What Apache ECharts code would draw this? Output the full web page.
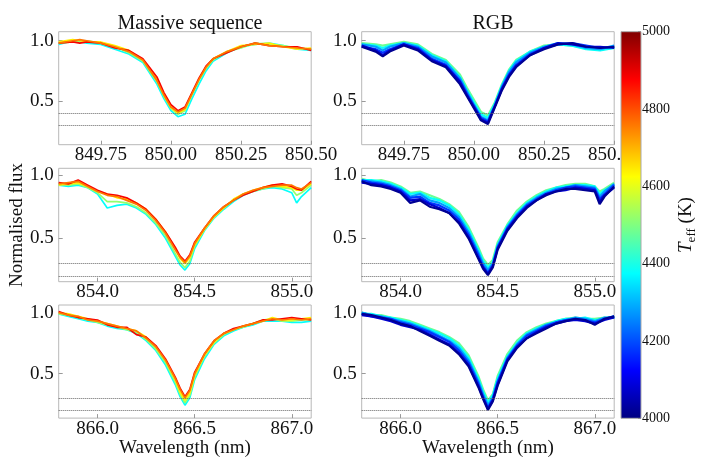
<!DOCTYPE html>
<html>
<head>
<meta charset="utf-8">
<script src="https://cdn.jsdelivr.net/npm/echarts@6/dist/echarts.min.js"></script>
<style>
  html, body { margin: 0; padding: 0; background: #fff; }
  #chart { width: 703px; height: 459px; }
</style>
</head>
<body>
<div id="chart"></div>
<script>
// wavelength grids (nm), one per Ca II triplet line
const wave8498 = [849.60, 849.65, 849.675, 849.70, 849.75, 849.80, 849.85, 849.90, 849.95, 849.975, 850.00, 850.025, 850.05, 850.075, 850.10, 850.125, 850.15, 850.20, 850.25, 850.30, 850.35, 850.40, 850.45, 850.50];
const wave8542 = [853.80, 853.85, 853.90, 853.95, 854.00, 854.05, 854.10, 854.15, 854.20, 854.25, 854.30, 854.35, 854.40, 854.425, 854.45, 854.475, 854.50, 854.55, 854.60, 854.65, 854.70, 854.75, 854.80, 854.85, 854.90, 854.95, 855.00, 855.025, 855.05, 855.10];
const wave8662 = [865.80, 865.85, 865.90, 865.95, 866.00, 866.05, 866.10, 866.15, 866.20, 866.25, 866.30, 866.35, 866.40, 866.425, 866.45, 866.475, 866.50, 866.55, 866.60, 866.65, 866.70, 866.75, 866.80, 866.85, 866.90, 866.95, 867.00, 867.05, 867.10];

// Teff (K) of the plotted spectra, in drawing order
const msTeff = [4380, 4520, 4640, 4880, 4760];
const rgbTeff = [4480, 4380, 4280, 4180, 4080, 4020];

// massive sequence fluxes (one row per msTeff)
const ms8498 = [
  [0.97, 1.00, 0.99, 0.98, 0.97, 0.93, 0.89, 0.82, 0.64, 0.52, 0.42, 0.37, 0.39, 0.52, 0.64, 0.75, 0.83, 0.90, 0.95, 0.97, 0.98, 0.96, 0.93, 0.92],
  [0.98, 0.99, 1.00, 1.00, 0.98, 0.95, 0.90, 0.83, 0.66, 0.54, 0.44, 0.39, 0.42, 0.55, 0.67, 0.77, 0.84, 0.91, 0.94, 0.98, 0.97, 0.96, 0.94, 0.93],
  [0.99, 1.01, 1.00, 0.99, 0.99, 0.96, 0.92, 0.84, 0.68, 0.55, 0.45, 0.40, 0.43, 0.56, 0.68, 0.78, 0.85, 0.91, 0.96, 0.97, 0.98, 0.95, 0.93, 0.94],
  [0.98, 0.99, 0.98, 0.99, 0.98, 0.94, 0.92, 0.85, 0.70, 0.57, 0.47, 0.42, 0.45, 0.57, 0.69, 0.79, 0.85, 0.90, 0.95, 0.98, 0.96, 0.95, 0.95, 0.92],
  [0.98, 1.00, 1.01, 1.00, 0.98, 0.95, 0.91, 0.84, 0.67, 0.55, 0.45, 0.41, 0.44, 0.56, 0.68, 0.78, 0.85, 0.91, 0.95, 0.98, 0.96, 0.95, 0.94, 0.93]
];
const ms8542 = [
  [0.92, 0.91, 0.92, 0.90, 0.85, 0.74, 0.76, 0.77, 0.74, 0.69, 0.61, 0.50, 0.36, 0.29, 0.25, 0.30, 0.42, 0.56, 0.66, 0.73, 0.79, 0.84, 0.87, 0.89, 0.90, 0.89, 0.86, 0.78, 0.83, 0.90],
  [0.93, 0.92, 0.93, 0.90, 0.86, 0.79, 0.79, 0.78, 0.75, 0.70, 0.62, 0.52, 0.38, 0.31, 0.27, 0.32, 0.44, 0.57, 0.67, 0.74, 0.80, 0.85, 0.87, 0.89, 0.91, 0.90, 0.89, 0.84, 0.86, 0.92],
  [0.92, 0.93, 0.94, 0.91, 0.87, 0.85, 0.82, 0.81, 0.78, 0.73, 0.65, 0.55, 0.42, 0.34, 0.30, 0.35, 0.45, 0.57, 0.67, 0.74, 0.81, 0.85, 0.88, 0.90, 0.92, 0.91, 0.90, 0.88, 0.88, 0.93],
  [0.94, 0.93, 0.96, 0.92, 0.88, 0.85, 0.84, 0.82, 0.78, 0.73, 0.65, 0.55, 0.43, 0.36, 0.32, 0.37, 0.47, 0.58, 0.68, 0.75, 0.80, 0.84, 0.87, 0.90, 0.92, 0.93, 0.91, 0.89, 0.88, 0.95],
  [0.93, 0.94, 0.95, 0.91, 0.87, 0.84, 0.83, 0.80, 0.77, 0.72, 0.64, 0.54, 0.41, 0.35, 0.31, 0.36, 0.46, 0.58, 0.68, 0.75, 0.80, 0.85, 0.88, 0.90, 0.91, 0.92, 0.92, 0.90, 0.89, 0.94]
];
const ms8662 = [
  [0.99, 0.97, 0.95, 0.93, 0.92, 0.89, 0.87, 0.86, 0.83, 0.77, 0.69, 0.57, 0.41, 0.31, 0.24, 0.30, 0.45, 0.62, 0.74, 0.81, 0.85, 0.88, 0.90, 0.93, 0.93, 0.93, 0.92, 0.92, 0.93],
  [0.99, 0.98, 0.96, 0.94, 0.92, 0.90, 0.88, 0.86, 0.84, 0.78, 0.70, 0.59, 0.43, 0.33, 0.26, 0.32, 0.47, 0.64, 0.75, 0.82, 0.86, 0.88, 0.91, 0.94, 0.95, 0.93, 0.93, 0.94, 0.94],
  [1.00, 0.99, 0.97, 0.95, 0.93, 0.91, 0.89, 0.87, 0.85, 0.80, 0.72, 0.61, 0.45, 0.35, 0.28, 0.34, 0.49, 0.65, 0.76, 0.83, 0.86, 0.89, 0.91, 0.93, 0.96, 0.94, 0.94, 0.95, 0.96],
  [1.01, 0.98, 0.96, 0.95, 0.94, 0.90, 0.88, 0.88, 0.82, 0.80, 0.73, 0.62, 0.47, 0.38, 0.31, 0.37, 0.51, 0.66, 0.77, 0.83, 0.87, 0.89, 0.91, 0.94, 0.94, 0.95, 0.96, 0.95, 0.94],
  [1.00, 0.98, 0.97, 0.94, 0.93, 0.91, 0.89, 0.87, 0.85, 0.79, 0.72, 0.61, 0.46, 0.37, 0.30, 0.36, 0.50, 0.66, 0.77, 0.83, 0.86, 0.89, 0.91, 0.93, 0.95, 0.94, 0.95, 0.94, 0.95]
];

// RGB fluxes (one row per rgbTeff)
const rgb8498 = [
  [0.98, 0.97, 0.96, 0.97, 0.99, 0.97, 0.89, 0.84, 0.72, 0.61, 0.51, 0.41, 0.38, 0.49, 0.64, 0.76, 0.84, 0.91, 0.96, 0.97, 0.96, 0.94, 0.93, 0.94],
  [0.97, 0.96, 0.94, 0.96, 0.98, 0.96, 0.88, 0.83, 0.70, 0.59, 0.49, 0.39, 0.36, 0.48, 0.63, 0.75, 0.83, 0.91, 0.95, 0.97, 0.96, 0.93, 0.92, 0.94],
  [0.97, 0.95, 0.92, 0.95, 0.98, 0.95, 0.87, 0.82, 0.69, 0.58, 0.47, 0.37, 0.34, 0.47, 0.62, 0.74, 0.82, 0.90, 0.95, 0.98, 0.97, 0.94, 0.93, 0.96],
  [0.95, 0.93, 0.90, 0.93, 0.97, 0.94, 0.85, 0.80, 0.67, 0.56, 0.46, 0.36, 0.33, 0.46, 0.61, 0.72, 0.80, 0.89, 0.94, 0.97, 0.98, 0.96, 0.94, 0.95],
  [0.96, 0.92, 0.88, 0.92, 0.97, 0.93, 0.84, 0.79, 0.66, 0.55, 0.45, 0.35, 0.32, 0.46, 0.60, 0.71, 0.79, 0.88, 0.94, 0.98, 0.97, 0.95, 0.95, 0.94],
  [0.95, 0.91, 0.87, 0.91, 0.96, 0.92, 0.83, 0.78, 0.64, 0.54, 0.44, 0.34, 0.31, 0.45, 0.59, 0.70, 0.78, 0.88, 0.93, 0.97, 0.98, 0.95, 0.94, 0.95]
];
const rgb8542 = [
  [0.97, 0.95, 0.96, 0.94, 0.91, 0.86, 0.87, 0.84, 0.81, 0.77, 0.71, 0.59, 0.43, 0.34, 0.29, 0.33, 0.47, 0.61, 0.72, 0.79, 0.84, 0.88, 0.90, 0.92, 0.93, 0.93, 0.91, 0.87, 0.89, 0.94],
  [0.96, 0.96, 0.95, 0.93, 0.90, 0.85, 0.86, 0.82, 0.80, 0.76, 0.69, 0.57, 0.41, 0.32, 0.27, 0.31, 0.45, 0.60, 0.70, 0.78, 0.83, 0.87, 0.90, 0.91, 0.92, 0.92, 0.91, 0.85, 0.88, 0.92],
  [0.95, 0.95, 0.94, 0.92, 0.89, 0.83, 0.85, 0.80, 0.78, 0.74, 0.67, 0.55, 0.39, 0.30, 0.25, 0.30, 0.44, 0.59, 0.69, 0.77, 0.82, 0.86, 0.89, 0.90, 0.92, 0.91, 0.90, 0.83, 0.87, 0.93],
  [0.96, 0.94, 0.93, 0.91, 0.88, 0.82, 0.83, 0.78, 0.76, 0.72, 0.65, 0.53, 0.37, 0.28, 0.23, 0.29, 0.43, 0.58, 0.68, 0.76, 0.81, 0.85, 0.88, 0.90, 0.91, 0.90, 0.89, 0.81, 0.85, 0.92],
  [0.94, 0.93, 0.92, 0.90, 0.87, 0.80, 0.81, 0.77, 0.74, 0.70, 0.63, 0.51, 0.35, 0.27, 0.22, 0.28, 0.42, 0.57, 0.67, 0.75, 0.80, 0.85, 0.87, 0.88, 0.90, 0.89, 0.88, 0.79, 0.84, 0.90],
  [0.95, 0.92, 0.91, 0.89, 0.86, 0.78, 0.80, 0.75, 0.73, 0.70, 0.62, 0.50, 0.34, 0.26, 0.21, 0.27, 0.41, 0.56, 0.66, 0.74, 0.80, 0.84, 0.87, 0.89, 0.89, 0.88, 0.87, 0.77, 0.83, 0.91]
];
const rgb8662 = [
  [1.00, 0.98, 0.98, 0.96, 0.95, 0.93, 0.90, 0.87, 0.84, 0.80, 0.75, 0.65, 0.48, 0.37, 0.28, 0.33, 0.48, 0.66, 0.77, 0.84, 0.88, 0.91, 0.93, 0.95, 0.96, 0.95, 0.95, 0.96, 0.96],
  [0.99, 0.99, 0.97, 0.96, 0.94, 0.92, 0.89, 0.86, 0.83, 0.79, 0.73, 0.63, 0.46, 0.35, 0.26, 0.32, 0.46, 0.64, 0.75, 0.83, 0.87, 0.90, 0.93, 0.95, 0.95, 0.96, 0.94, 0.95, 0.97],
  [1.00, 0.98, 0.97, 0.95, 0.93, 0.91, 0.88, 0.85, 0.81, 0.77, 0.71, 0.61, 0.44, 0.33, 0.24, 0.30, 0.44, 0.63, 0.74, 0.82, 0.86, 0.90, 0.92, 0.94, 0.96, 0.95, 0.93, 0.96, 0.96],
  [0.99, 0.97, 0.96, 0.95, 0.92, 0.90, 0.87, 0.84, 0.80, 0.76, 0.69, 0.59, 0.42, 0.31, 0.22, 0.29, 0.43, 0.62, 0.73, 0.81, 0.85, 0.89, 0.92, 0.94, 0.95, 0.94, 0.92, 0.95, 0.97],
  [0.98, 0.97, 0.95, 0.93, 0.90, 0.88, 0.86, 0.82, 0.78, 0.74, 0.67, 0.57, 0.40, 0.30, 0.21, 0.28, 0.41, 0.61, 0.72, 0.79, 0.84, 0.88, 0.91, 0.93, 0.94, 0.93, 0.91, 0.94, 0.96],
  [0.99, 0.98, 0.96, 0.94, 0.91, 0.89, 0.85, 0.81, 0.77, 0.73, 0.66, 0.56, 0.39, 0.29, 0.20, 0.27, 0.40, 0.60, 0.71, 0.79, 0.83, 0.87, 0.91, 0.93, 0.95, 0.94, 0.90, 0.95, 0.97]
];

// axis ranges, ticks and the dotted reference levels per row
const xRange8498 = [849.6, 850.5], xTicks8498 = [849.75, 850.00, 850.25, 850.50];
const xRange8542 = [853.8, 855.1], xTicks8542 = [854.0, 854.5, 855.0];
const xRange8662 = [865.8, 867.1], xTicks8662 = [866.0, 866.5, 867.0];
const yRange8498 = [0.138, 1.075], yRange8542 = [0.158, 1.053], yRange8662 = [0.134, 1.063];
const yTicks = [0.5, 1.0];
const refLevels8498 = [0.4, 0.3];
const refLevels8542 = [0.3, 0.2];
const refLevels8662 = [0.3, 0.2];
const teffRange = [4000, 5000];

const rows = [
  { wave: wave8498, ms: ms8498, rgb: rgb8498, xr: xRange8498, xt: xTicks8498, yr: yRange8498, refs: refLevels8498, dec: 2 },
  { wave: wave8542, ms: ms8542, rgb: rgb8542, xr: xRange8542, xt: xTicks8542, yr: yRange8542, refs: refLevels8542, dec: 1 },
  { wave: wave8662, ms: ms8662, rgb: rgb8662, xr: xRange8662, xt: xTicks8662, yr: yRange8662, refs: refLevels8662, dec: 1 }
];

const FONT = 'Liberation Serif';
const colLeft = [58.7, 361.7];
const rowTop = [31.7, 168.3, 305];
const rowHeight = [113, 113.4, 114];

// matplotlib "jet"
function jet(t) {
  const c = v => Math.round(255 * Math.max(0, Math.min(1, v)));
  return 'rgb(' + c(1.5 - Math.abs(4 * t - 3)) + ',' + c(1.5 - Math.abs(4 * t - 2)) + ',' + c(1.5 - Math.abs(4 * t - 1)) + ')';
}
const teffColor = T => jet((T - teffRange[0]) / (teffRange[1] - teffRange[0]));

const chart = echarts.init(document.getElementById('chart'));

const grid = [], xAxis = [], yAxis = [], series = [];
const labelStyle = { fontFamily: FONT, fontSize: 19, color: '#111' };

rows.forEach((row, r) => {
  [0, 1].forEach(c => {
    const g = grid.length;
    grid.push({
      left: colLeft[c], top: rowTop[r], width: 252.5, height: rowHeight[r],
      show: true, borderColor: '#b8b8b8', borderWidth: 1, backgroundColor: 'transparent'
    });
    xAxis.push({
      type: 'value', gridIndex: g, min: row.xr[0], max: row.xr[1],
      axisLine: { show: false }, splitLine: { show: false },
      axisTick: { show: true, inside: true, length: 4, lineStyle: { color: '#999' }, customValues: row.xt },
      axisLabel: Object.assign({ margin: 1, customValues: row.xt, formatter: v => v.toFixed(row.dec) }, labelStyle),
      name: r === 2 ? 'Wavelength (nm)' : '', nameLocation: 'middle', nameGap: 16,
      nameTextStyle: labelStyle
    });
    yAxis.push({
      type: 'value', gridIndex: g, min: row.yr[0], max: row.yr[1],
      axisLine: { show: false }, splitLine: { show: false },
      axisTick: { show: true, inside: true, length: 4, lineStyle: { color: '#999' }, customValues: yTicks },
      axisLabel: Object.assign({ margin: 5, customValues: yTicks, formatter: v => v.toFixed(1) }, labelStyle),
      name: (r === 1 && c === 0) ? 'Normalised flux' : '', nameLocation: 'middle', nameGap: 30,
      nameTextStyle: labelStyle
    });
    const fluxes = c === 0 ? row.ms : row.rgb;
    const teffs = c === 0 ? msTeff : rgbTeff;
    fluxes.forEach((flux, k) => {
      const s = {
        type: 'line', xAxisIndex: g, yAxisIndex: g,
        data: row.wave.map((w, i) => [w, flux[i]]),
        showSymbol: false, symbol: 'none', clip: true, silent: true,
        lineStyle: { width: c === 0 ? 1.7 : 2.2, color: teffColor(teffs[k]) },
        itemStyle: { color: teffColor(teffs[k]) },
        z: 3
      };
      if (k === 0) {
        s.markLine = {
          silent: true, symbol: 'none', label: { show: false }, animation: false,
          lineStyle: { type: 'dotted', color: '#666', width: 1 },
          data: row.refs.map(v => ({ yAxis: v }))
        };
      }
      series.push(s);
    });
  });
});

// colour bar
const cbIndex = grid.length;
grid.push({ left: 621, top: 31.7, width: 20, height: 386.6 });
xAxis.push({ type: 'category', gridIndex: cbIndex, data: ['Teff'], show: false });
yAxis.push({
  type: 'value', gridIndex: cbIndex, position: 'right', min: teffRange[0], max: teffRange[1], interval: 200,
  axisLine: { show: false }, splitLine: { show: false },
  axisTick: { show: true, inside: true, length: 3, lineStyle: { color: '#222' } },
  axisLabel: { margin: 1, fontFamily: FONT, fontSize: 14, color: '#111', formatter: v => String(v) },
  name: '{i|T}{s|eff} (K)', nameLocation: 'middle', nameRotate: 90, nameGap: 27,
  nameTextStyle: {
    fontFamily: FONT, fontSize: 19, color: '#111', lineHeight: 24,
    rich: {
      i: { fontFamily: FONT, fontSize: 19, fontStyle: 'italic', lineHeight: 24 },
      s: { fontFamily: FONT, fontSize: 13, lineHeight: 13, verticalAlign: 'bottom' }
    }
  }
});
const stops = [];
for (let i = 0; i <= 8; i++) stops.push({ offset: i / 8, color: jet(i / 8) });
series.push({
  type: 'custom', xAxisIndex: cbIndex, yAxisIndex: cbIndex, silent: true, z: 5,
  data: [[0, teffRange[0], teffRange[1]]],
  renderItem: (params, api) => {
    const lo = api.coord([api.value(0), api.value(1)]);
    const hi = api.coord([api.value(0), api.value(2)]);
    const w = api.size([1, 0])[0];
    return {
      type: 'rect',
      shape: { x: lo[0] - w / 2, y: hi[1], width: w, height: lo[1] - hi[1] },
      style: { fill: new echarts.graphic.LinearGradient(0, 1, 0, 0, stops), stroke: '#aaa', lineWidth: 1 }
    };
  }
});

chart.setOption({
  animation: false,
  backgroundColor: '#fff',
  title: [
    { text: 'Massive sequence', left: 185, top: 9, textAlign: 'center', textStyle: { fontFamily: FONT, fontSize: 20, fontWeight: 'normal', color: '#111' } },
    { text: 'RGB', left: 488, top: 9, textAlign: 'center', textStyle: { fontFamily: FONT, fontSize: 20, fontWeight: 'normal', color: '#111' } }
  ],
  grid, xAxis, yAxis, series
});
</script>
</body>
</html>
